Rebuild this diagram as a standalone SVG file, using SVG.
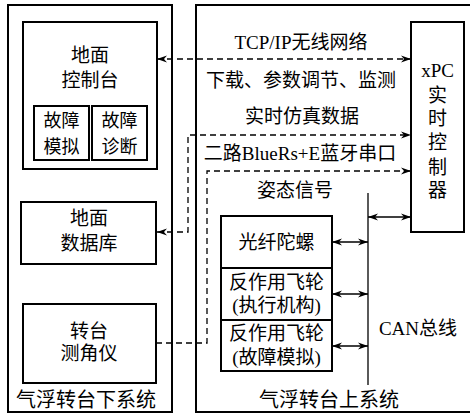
<svg xmlns="http://www.w3.org/2000/svg" width="470" height="414" viewBox="0 0 470 414">
<defs>
<style>
.box{fill:#fff;stroke:#000;stroke-width:2}
.t{font-family:"Liberation Serif","Noto Sans CJK SC",serif;font-size:19px;text-anchor:middle;fill:#000}
.s{font-size:18px}
.b{font-size:20px}
.c{fill:none;stroke:#000;stroke-width:1.3}
.d{stroke-dasharray:6 4}
</style>
<marker id="ah" viewBox="0 0 10 8" refX="10" refY="4" markerWidth="10" markerHeight="8" markerUnits="userSpaceOnUse" orient="auto-start-reverse">
<path d="M0,0.5 L10,4 L0,7.5 L3,4 Z" fill="#000"/>
</marker>
</defs>
<rect width="470" height="414" fill="#fff"/>

<g id="lower-system">
<rect class="box" x="8" y="5" width="164" height="407"/>
<text class="t b" x="86" y="407">气浮转台下系统</text>
</g>
<g id="upper-system">
<rect class="box" x="196" y="5" width="290" height="407"/>
<text class="t b" x="329" y="407">气浮转台上系统</text>
</g>

<g id="ground-console">
<rect class="box" x="23" y="22" width="134" height="147"/>
<text class="t" x="90" y="62">地面</text>
<text class="t" x="90" y="87">控制台</text>
</g>
<g id="fault-sim">
<rect class="box" x="34" y="106" width="55" height="54"/>
<text class="t s" x="61.5" y="127">故障</text>
<text class="t s" x="61.5" y="153">模拟</text>
</g>
<g id="fault-diag">
<rect class="box" x="92" y="106" width="55" height="54"/>
<text class="t s" x="119.5" y="127">故障</text>
<text class="t s" x="119.5" y="153">诊断</text>
</g>
<g id="ground-db">
<rect class="box" x="21" y="202" width="135" height="62"/>
<text class="t" x="89" y="225">地面</text>
<text class="t" x="89" y="250">数据库</text>
</g>
<g id="turntable">
<rect class="box" x="23" y="304" width="133" height="79"/>
<text class="t" x="89" y="338">转台</text>
<text class="t" x="89" y="360">测角仪</text>
</g>

<g id="xpc">
<rect class="box" x="411" y="22" width="53" height="210"/>
<text class="t" x="437.5" y="77">xPC</text>
<text class="t" x="437.5" y="102">实</text>
<text class="t" x="437.5" y="125">时</text>
<text class="t" x="437.5" y="149">控</text>
<text class="t" x="437.5" y="174">制</text>
<text class="t" x="437.5" y="197">器</text>
</g>

<g id="fog">
<rect class="box" x="221" y="216" width="111" height="52"/>
<text class="t" x="276.5" y="249">光纤陀螺</text>
</g>
<g id="wheel-actuator">
<rect class="box" x="221" y="268" width="111" height="52"/>
<text class="t" x="276.5" y="289">反作用飞轮</text>
<text class="t" x="276.5" y="312">(执行机构)</text>
</g>
<g id="wheel-fault">
<rect class="box" x="221" y="320" width="111" height="51"/>
<text class="t" x="276.5" y="340">反作用飞轮</text>
<text class="t" x="276.5" y="364">(故障模拟)</text>
</g>

<g id="labels">
<text class="t" x="301" y="49">TCP/IP无线网络</text>
<text class="t" x="301" y="87">下载、参数调节、监测</text>
<text class="t" x="302" y="123">实时仿真数据</text>
<text class="t" x="300" y="160">二路BlueRs+E蓝牙串口</text>
<text class="t" x="295" y="197">姿态信号</text>
<text class="t" x="418" y="335">CAN总线</text>
</g>

<g id="connectors">
<path class="c d" d="M157,59 H411" marker-start="url(#ah)" marker-end="url(#ah)"/>
<path class="c d" d="M157,232 H188 V135 H411" marker-start="url(#ah)" marker-end="url(#ah)"/>
<path class="c d" d="M156,343 H207 V171 H411" marker-end="url(#ah)"/>
<path class="c" d="M368,193 V385"/>
<path class="c" d="M368,217 H411" marker-start="url(#ah)" marker-end="url(#ah)"/>
<path class="c" d="M332,242 H368" marker-start="url(#ah)" marker-end="url(#ah)"/>
<path class="c" d="M332,294 H368" marker-start="url(#ah)" marker-end="url(#ah)"/>
<path class="c" d="M332,346 H368" marker-start="url(#ah)" marker-end="url(#ah)"/>
</g>
</svg>
